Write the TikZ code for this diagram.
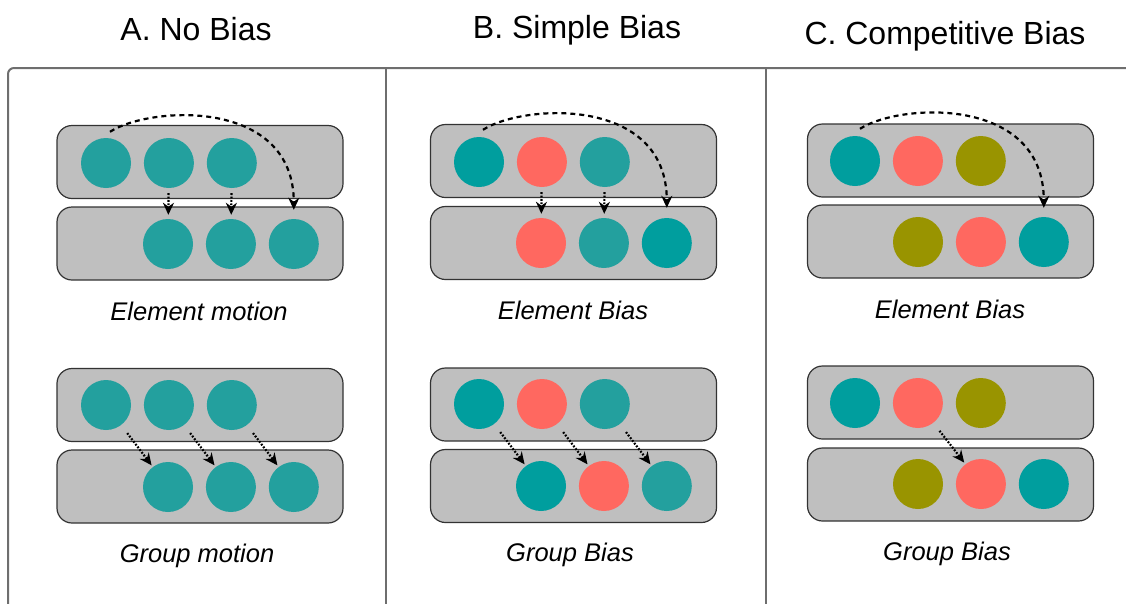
\documentclass[tikz,border=0pt]{standalone}
\usepackage{fontspec}
\setmainfont{Liberation Sans}
\usetikzlibrary{arrows.meta,positioning}
\definecolor{tealA}{RGB}{35,160,158}
\definecolor{tealB}{RGB}{0,158,158}
\definecolor{salmon}{RGB}{255,104,96}
\definecolor{olive}{RGB}{153,148,0}
\definecolor{framegray}{RGB}{110,110,110}

\begin{document}
\begin{tikzpicture}[
    x=1pt, y=-1pt,
    row/.style={draw=black!80, fill=black!25, rounded corners=15pt, minimum width=286pt, minimum height=73pt, line width=1.2pt},
    ball/.style={circle, minimum size=50pt, inner sep=0pt, fill=#1},
    title/.style={font=\fontsize{32}{36}\selectfont, anchor=base},
    caption/.style={font=\fontsize{25.5}{30}\selectfont\itshape, anchor=base},
    jump/.style={line width=2.2pt, dash pattern=on 5pt off 4pt, -{Stealth[length=12pt,width=11pt]}},
    hop/.style={line width=2.2pt, dash pattern=on 1.8pt off 1.6pt, -{Stealth[length=12pt,width=11pt]}}
]
\useasboundingbox (0,0) rectangle (1126,603);
\clip (0,0) rectangle (1126,603);

% frame
\draw[framegray, line width=2pt, rounded corners=6pt] (8,640) |- (1160,68);
\draw[framegray, line width=2pt] (386,68) -- (386,640);
\draw[framegray, line width=2pt] (766,68) -- (766,640);

% titles
\node[title] (ta) at (196,40) {A. No Bias};
\node[title] (tb) at (577,38) {B. Simple Bias};
\node[title] (tc) at (945,44) {C. Competitive Bias};

% A. element motion
\node[row] (aet) at (200,162) {};
\node[row] (aeb) at (200,243.5) {};
\node[ball=tealA] (aet1) at (106,163) {};
\node[ball=tealA, right=12.5pt of aet1] (aet2) {};
\node[ball=tealA, right=12.5pt of aet2] (aet3) {};
\node[ball=tealA] (aeb1) at (168,244) {};
\node[ball=tealA, right=12.5pt of aeb1] (aeb2) {};
\node[ball=tealA, right=12.5pt of aeb2] (aeb3) {};
\draw[hop, shorten <=5pt, shorten >=4pt] (aet2) -- (aeb1);
\draw[hop, shorten <=5pt, shorten >=4pt] (aet3) -- (aeb2);
\draw[jump] ([xshift=4pt,yshift=6pt]aet1.north) .. controls +(40,-26) and +(0,-112) .. ([yshift=9pt]aeb3.north);
\node[caption] (ae) at (199,320) {Element motion};

% A. group motion
\node[row] (agt) at (200,405) {};
\node[row] (agb) at (200,486.5) {};
\node[ball=tealA] (agt1) at (106,405) {};
\node[ball=tealA, right=12.5pt of agt1] (agt2) {};
\node[ball=tealA, right=12.5pt of agt2] (agt3) {};
\node[ball=tealA] (agb1) at (168,487) {};
\node[ball=tealA, right=12.5pt of agb1] (agb2) {};
\node[ball=tealA, right=12.5pt of agb2] (agb3) {};
\draw[hop, shorten <=10pt, shorten >=2pt] (agt1) -- (agb1);
\draw[hop, shorten <=10pt, shorten >=2pt] (agt2) -- (agb2);
\draw[hop, shorten <=10pt, shorten >=2pt] (agt3) -- (agb3);
\node[caption] (ag) at (197,562) {Group motion};

% B. element bias
\node[row] (bet) at (573.5,161) {};
\node[row] (beb) at (573.5,243) {};
\node[ball=tealB] (bet1) at (479,162) {};
\node[ball=salmon, right=12.5pt of bet1] (bet2) {};
\node[ball=tealA, right=12.5pt of bet2] (bet3) {};
\node[ball=salmon] (beb1) at (541,243) {};
\node[ball=tealA, right=12.5pt of beb1] (beb2) {};
\node[ball=tealB, right=12.5pt of beb2] (beb3) {};
\draw[hop, shorten <=5pt, shorten >=4pt] (bet2) -- (beb1);
\draw[hop, shorten <=5pt, shorten >=4pt] (bet3) -- (beb2);
\draw[jump] ([xshift=4pt,yshift=7pt]bet1.north) .. controls +(40,-26) and +(0,-112) .. ([yshift=10pt]beb3.north);
\node[caption] (be) at (573,319) {Element Bias};

% B. group bias
\node[row] (bgt) at (573.5,404.5) {};
\node[row] (bgb) at (573.5,486) {};
\node[ball=tealB] (bgt1) at (479,404) {};
\node[ball=salmon, right=12.5pt of bgt1] (bgt2) {};
\node[ball=tealA, right=12.5pt of bgt2] (bgt3) {};
\node[ball=tealB] (bgb1) at (541,486) {};
\node[ball=salmon, right=12.5pt of bgb1] (bgb2) {};
\node[ball=tealA, right=12.5pt of bgb2] (bgb3) {};
\draw[hop, shorten <=10pt, shorten >=2pt] (bgt1) -- (bgb1);
\draw[hop, shorten <=10pt, shorten >=2pt] (bgt2) -- (bgb2);
\draw[hop, shorten <=10pt, shorten >=2pt] (bgt3) -- (bgb3);
\node[caption] (bg) at (570,561) {Group Bias};

% C. element bias
\node[row] (cet) at (950.5,160.5) {};
\node[row] (ceb) at (950.5,241.5) {};
\node[ball=tealB] (cet1) at (855,161) {};
\node[ball=salmon, right=12.5pt of cet1] (cet2) {};
\node[ball=olive, right=12.5pt of cet2] (cet3) {};
\node[ball=olive] (ceb1) at (918,242) {};
\node[ball=salmon, right=12.5pt of ceb1] (ceb2) {};
\node[ball=tealB, right=12.5pt of ceb2] (ceb3) {};
\draw[jump] ([xshift=5pt,yshift=7pt]cet1.north) .. controls +(40,-26) and +(0,-112) .. ([yshift=9pt]ceb3.north);
\node[caption] (ce) at (950,318) {Element Bias};

% C. group bias
\node[row] (cgt) at (950.5,402.5) {};
\node[row] (cgb) at (950.5,484.5) {};
\node[ball=tealB] (cgt1) at (855,403) {};
\node[ball=salmon, right=12.5pt of cgt1] (cgt2) {};
\node[ball=olive, right=12.5pt of cgt2] (cgt3) {};
\node[ball=olive] (cgb1) at (918,484) {};
\node[ball=salmon, right=12.5pt of cgb1] (cgb2) {};
\node[ball=tealB, right=12.5pt of cgb2] (cgb3) {};
\draw[hop, shorten <=10pt, shorten >=2pt] (cgt2) -- (cgb2);
\node[caption] (cg) at (947,560) {Group Bias};
\end{tikzpicture}
\end{document}
